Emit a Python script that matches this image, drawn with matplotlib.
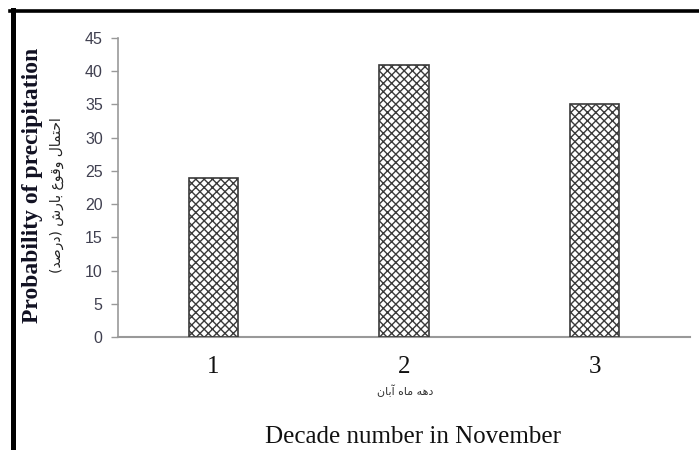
import matplotlib.pyplot as plt
from matplotlib.lines import Line2D

decades = ["1", "2", "3"]
probability = [24, 41, 35]
y_ticks = [0, 5, 10, 15, 20, 25, 30, 35, 40, 45]

# Persian labels written as presentation forms in visual (left-to-right) order
fa_xlabel = "\uFEE5\uFE8E\uFE91\uFE81 \uFEE9\uFE8E\uFEE3 \uFEEA\uFEEB\uFEA9"
fa_ylabel = "(\uFEAA\uFEBB\uFEAD\uFEA9) \uFEB5\uFEAD\uFE8E\uFE91 \uFEC9\uFEEE\uFED7\uFEED \uFEDD\uFE8E\uFEE4\uFE98\uFEA3\uFE8D"

W, H = 699, 450
fig = plt.figure(figsize=(W / 100, H / 100), dpi=100)
fig.patch.set_facecolor("white")

ax = fig.add_axes([118 / W, 1 - 337 / H, (690 - 118) / W, (337 - 38) / H])
x = list(range(1, len(decades) + 1))
plt.rcParams["hatch.linewidth"] = 1.0
plt.rcParams["hatch.color"] = "#3a3a3a"
ax.bar(x, probability, width=0.26, color="white", edgecolor="#3a3a3a",
       linewidth=1.2, hatch="xxxx", zorder=3)

ax.set_xlim(0.5, 3.5)
ax.set_ylim(0, 45)
ax.set_yticks(y_ticks)
ax.set_xticks(x)
ax.set_xticklabels(decades, family="Liberation Serif", fontsize=18, color="#111111")
ax.tick_params(axis="x", length=0, pad=14)
ax.tick_params(axis="y", length=5, width=1, color="#999999", labelsize=11.5,
               labelcolor="#404050", pad=6)
for lab in ax.get_yticklabels():
    lab.set_family("Liberation Sans")

for s in ["top", "right"]:
    ax.spines[s].set_visible(False)
ax.spines["left"].set_color("#999999")
ax.spines["bottom"].set_color("#999999")
ax.spines["left"].set_linewidth(1.2)
ax.spines["bottom"].set_linewidth(1.5)

# axis titles
fig.text(405 / W, 1 - 391 / H, fa_xlabel, family="DejaVu Sans", fontsize=8,
         ha="center", va="center", color="#333333")
fig.text(413 / W, 1 - 437 / H, "Decade number in November", family="Liberation Serif",
         fontsize=18, ha="center", va="center", color="#111111")
fig.text(33 / W, 1 - 185 / H, "Probability of precipitation", family="Liberation Serif",
         fontsize=17, fontweight="bold", rotation=90, ha="center", va="center",
         color="#111122")
fig.text(57 / W, 1 - 195 / H, fa_ylabel, family="DejaVu Sans", fontsize=10,
         rotation=90, ha="center", va="center", color="#222222")

# frame (only the top and left edges are inside the picture)
fig.add_artist(Line2D([12.5 / W, 12.5 / W], [0, 1 - 9.5 / H], color="black",
                      linewidth=3.6, transform=fig.transFigure))
fig.add_artist(Line2D([10 / W, 1], [1 - 11 / H, 1 - 11 / H], color="black",
                      linewidth=2.6, transform=fig.transFigure))

fig.savefig("out.png", dpi=100)
